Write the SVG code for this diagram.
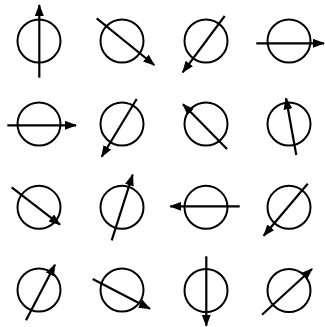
<svg xmlns="http://www.w3.org/2000/svg" width="325" height="327" viewBox="0 0 325 327">
<style>
circle{fill:none;stroke:#000;stroke-width:2}
line{stroke:#000;stroke-width:2.2;marker-end:url(#ah)}
</style>
<defs>
<marker id="ah" viewBox="0 0 12 9" refX="11" refY="4.5" markerWidth="12" markerHeight="9" markerUnits="userSpaceOnUse" orient="auto">
<path d="M0,0 L12,4.5 L0,9 z" fill="#000"/>
</marker>
</defs>
<rect width="325" height="327" fill="#fff"/>
<g id="c00"><circle cx="39" cy="41" r="21.5"/><line x1="39.3" y1="77.7" x2="39.3" y2="5"/></g>
<g id="c01"><circle cx="122" cy="41" r="21.5"/><line x1="96.7" y1="18.3" x2="154.3" y2="65"/></g>
<g id="c02"><circle cx="206" cy="41" r="21.5"/><line x1="224.7" y1="16" x2="182.7" y2="72.3"/></g>
<g id="c03"><circle cx="289" cy="41" r="21.5"/><line x1="256.3" y1="43.3" x2="324" y2="43.3"/></g>
<g id="c10"><circle cx="39" cy="124" r="21.5"/><line x1="7.3" y1="125.3" x2="76" y2="125.3"/></g>
<g id="c11"><circle cx="122" cy="124" r="21.5"/><line x1="136.7" y1="99" x2="101.7" y2="156.7"/></g>
<g id="c12"><circle cx="206" cy="124" r="21.5"/><line x1="227" y1="149" x2="183" y2="104.3"/></g>
<g id="c13"><circle cx="289" cy="124" r="21.5"/><line x1="296.3" y1="155" x2="286" y2="98.3"/></g>
<g id="c20"><circle cx="39" cy="207.3" r="21.5"/><line x1="11.7" y1="187.3" x2="60" y2="224.7"/></g>
<g id="c21"><circle cx="122" cy="207.3" r="21.5"/><line x1="111.7" y1="240.3" x2="132.7" y2="174.7"/></g>
<g id="c22"><circle cx="206" cy="207.3" r="21.5"/><line x1="239.7" y1="206.3" x2="170.3" y2="206.3"/></g>
<g id="c23"><circle cx="289" cy="207.3" r="21.5"/><line x1="307.7" y1="183.7" x2="263.7" y2="235.7"/></g>
<g id="c30"><circle cx="39" cy="290" r="21.5"/><line x1="26" y1="320.3" x2="55" y2="264.7"/></g>
<g id="c31"><circle cx="122" cy="290" r="21.5"/><line x1="92.7" y1="279" x2="150" y2="308.7"/></g>
<g id="c32"><circle cx="206" cy="290.5" r="21.5"/><line x1="206.3" y1="256.3" x2="206.3" y2="325.7"/></g>
<g id="c33"><circle cx="289" cy="290.5" r="21.5"/><line x1="262" y1="314.7" x2="312" y2="269"/></g>
</svg>
